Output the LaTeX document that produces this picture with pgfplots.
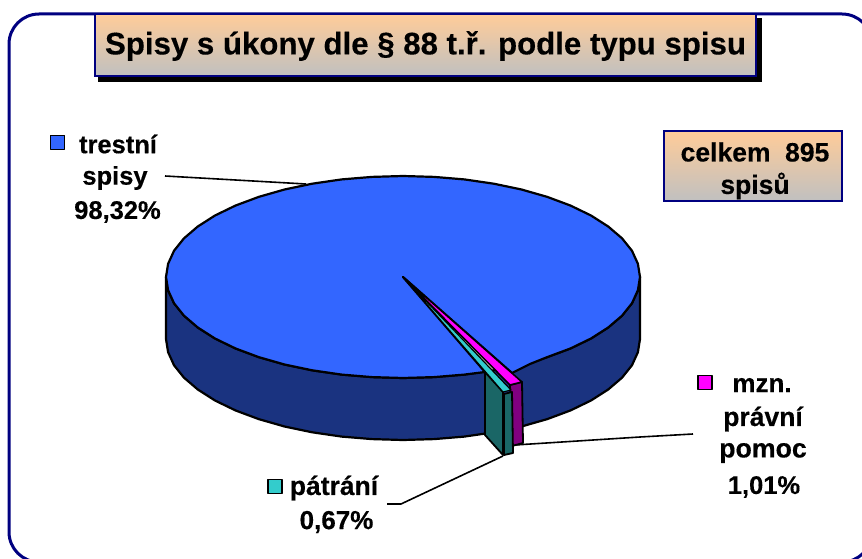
\documentclass[border=0pt]{standalone}
\usepackage{fontspec}
\setmainfont[BoldFeatures={FakeBold=0.35}]{Liberation Sans}
\usepackage{pgfplots}
\pgfplotsset{compat=1.18}
\definecolor{navyf}{HTML}{000080}
\definecolor{pieblue}{HTML}{3366FF}
\definecolor{sideblue}{HTML}{1A3380}
\definecolor{piemag}{HTML}{FF00FF}
\definecolor{sidemag}{HTML}{800080}
\definecolor{piecyan}{HTML}{33CCCC}
\definecolor{sideteal}{HTML}{1A6666}
\definecolor{boxtop}{HTML}{FFCC99}
\definecolor{boxbot}{HTML}{C0C0C0}
\newcommand{\lab}[4]{\node[font=\fontsize{#1}{#1}\selectfont\bfseries,anchor=center,inner sep=0pt] at (axis cs:#2,#3) {#4};}
\begin{document}
\begin{tikzpicture}
\begin{axis}[
  scale only axis, width=862pt, height=559pt,
  xmin=0, xmax=862, ymin=0, ymax=559, y dir=reverse,
  hide axis, no markers,
  every axis plot/.append style={line join=round, forget plot},
]
% frame
\draw[navyf, line width=3pt, rounded corners=30pt, fill=white] (axis cs:9,14) rectangle (axis cs:872,562);
% title box
\fill[black] (axis cs:98,18) rectangle (axis cs:762,82);
\shade[top color=boxtop, bottom color=boxbot] (axis cs:95,14) rectangle (axis cs:756,76);
\draw[navyf, line width=2pt] (axis cs:95,14) rectangle (axis cs:756,76);
\lab{31.2}{425.5}{46}{Spisy s úkony dle § 88 t.ř. podle typu spisu}
% total box
\shade[top color=boxtop, bottom color=boxbot] (axis cs:664,131) rectangle (axis cs:842,201);
\draw[navyf, line width=2pt] (axis cs:664,131) rectangle (axis cs:842,201);
\lab{26.5}{755}{152}{celkem\hspace{0.55em}895}
\lab{26.5}{755}{186}{spisů}
% pie side
\addplot[fill=sideblue, draw=black, line width=2.2pt] coordinates {
(640,277)(637.9,290.2)(632,303.2)(622,315.7)(608.2,327.5)(591,338.5)(570.6,348.4)(547.3,357.1)(521.5,364.5)(493.8,370.3)(464.3,374.6)(434,377.1)(403,378)(372,377.1)(341.7,374.6)(312.2,370.3)(284.5,364.5)(258.7,357.1)(235.4,348.4)(215,338.5)(197.8,327.5)(184,315.7)(174,303.2)(168.1,290.2)(166,277)
(166,339)(168.1,352.2)(174,365.2)(184,377.7)(197.8,389.5)(215,400.5)(235.4,410.4)(258.7,419.1)(284.5,426.5)(312.2,432.3)(341.7,436.6)(372,439.1)(403,440)(434,439.1)(464.3,436.6)(493.8,432.3)(521.5,426.5)(547.3,419.1)(570.6,410.4)(591,400.5)(608.2,389.5)(622,377.7)(632,365.2)(637.9,352.2)(640,339)
} --cycle;
% blue top
\addplot[fill=pieblue, draw=black, line width=2.2pt] coordinates {
(403,277)(512,373)(530,364)(547.3,357.1)(570.6,348.4)(591,338.5)(608.2,327.5)(622,315.7)(632,303.2)(637.9,290.2)(640,277)
(637.9,263.8)(632,250.8)(622,238.3)(608.2,226.5)(591,215.5)(570.6,205.6)(547.3,196.9)(521.5,189.5)(493.8,183.7)(464.3,179.4)(434,176.9)(403,176)(372,176.9)(341.7,179.4)(312.2,183.7)(284.5,189.5)(258.7,196.9)(235.4,205.6)(215,215.5)(197.8,226.5)(184,238.3)(174,250.8)(168.1,263.8)(166,277)
(168.1,290.2)(174,303.2)(184,315.7)(197.8,327.5)(215,338.5)(235.4,348.4)(258.7,357.1)(284.5,364.5)(312.2,370.3)(341.7,374.6)(372,377.1)(403,378)(434,377.1)(464.3,374.6)(485,372)
} --cycle;
% magenta slice
\addplot[fill=sidemag, draw=black, line width=1.8pt] coordinates {(510,385)(522,382)(523,443)(512,446)} --cycle;
\addplot[fill=piemag, draw=black, line width=1.6pt] coordinates {(403,277)(522,382)(510,385)} --cycle;
% teal slice
\addplot[fill=sideteal, draw=black, line width=1.8pt] coordinates {(485,372)(485,435)(503,455)(503,392)} --cycle;
\addplot[fill=sideteal, draw=black, line width=1.8pt] coordinates {(504,394)(512,392)(513,453)(504,455)} --cycle;
\addplot[fill=piecyan, draw=black, line width=1.2pt] coordinates {(403,277)(511,390)(503,392)} --cycle;
% leaders
\addplot[black, line width=1.6pt] coordinates {(165,176)(306,184)};
\addplot[black, line width=1.6pt] coordinates {(387,504)(401,504)(503,456)};
\addplot[black, line width=1.6pt] coordinates {(515,445)(640,437)(693,434)};
% legend keys
\addplot[fill=pieblue, draw=black, line width=1.5pt] coordinates {(50.5,135.5)(64.5,135.5)(64.5,149.5)(50.5,149.5)} --cycle;
\addplot[fill=piecyan, draw=black, line width=1.5pt] coordinates {(268,479.5)(282,479.5)(282,493.5)(268,493.5)} --cycle;
\addplot[fill=piemag, draw=black, line width=1.5pt] coordinates {(698,375.5)(712,375.5)(712,389.5)(698,389.5)} --cycle;
% labels
\lab{25.5}{118}{144}{trestní}
\lab{25.5}{115}{178}{spisy}
\lab{25.5}{117.5}{212}{98,32\%}
\lab{26.5}{334}{488}{pátrání}
\lab{26}{336.5}{522}{0,67\%}
\lab{26}{762}{385}{mzn.}
\lab{26.5}{763}{419}{právní}
\lab{26.7}{763}{453}{pomoc}
\lab{25.5}{764}{487}{1,01\%}
\path[use as bounding box] (axis cs:0,0) rectangle (axis cs:862,559);
\end{axis}
\end{tikzpicture}
\end{document}
